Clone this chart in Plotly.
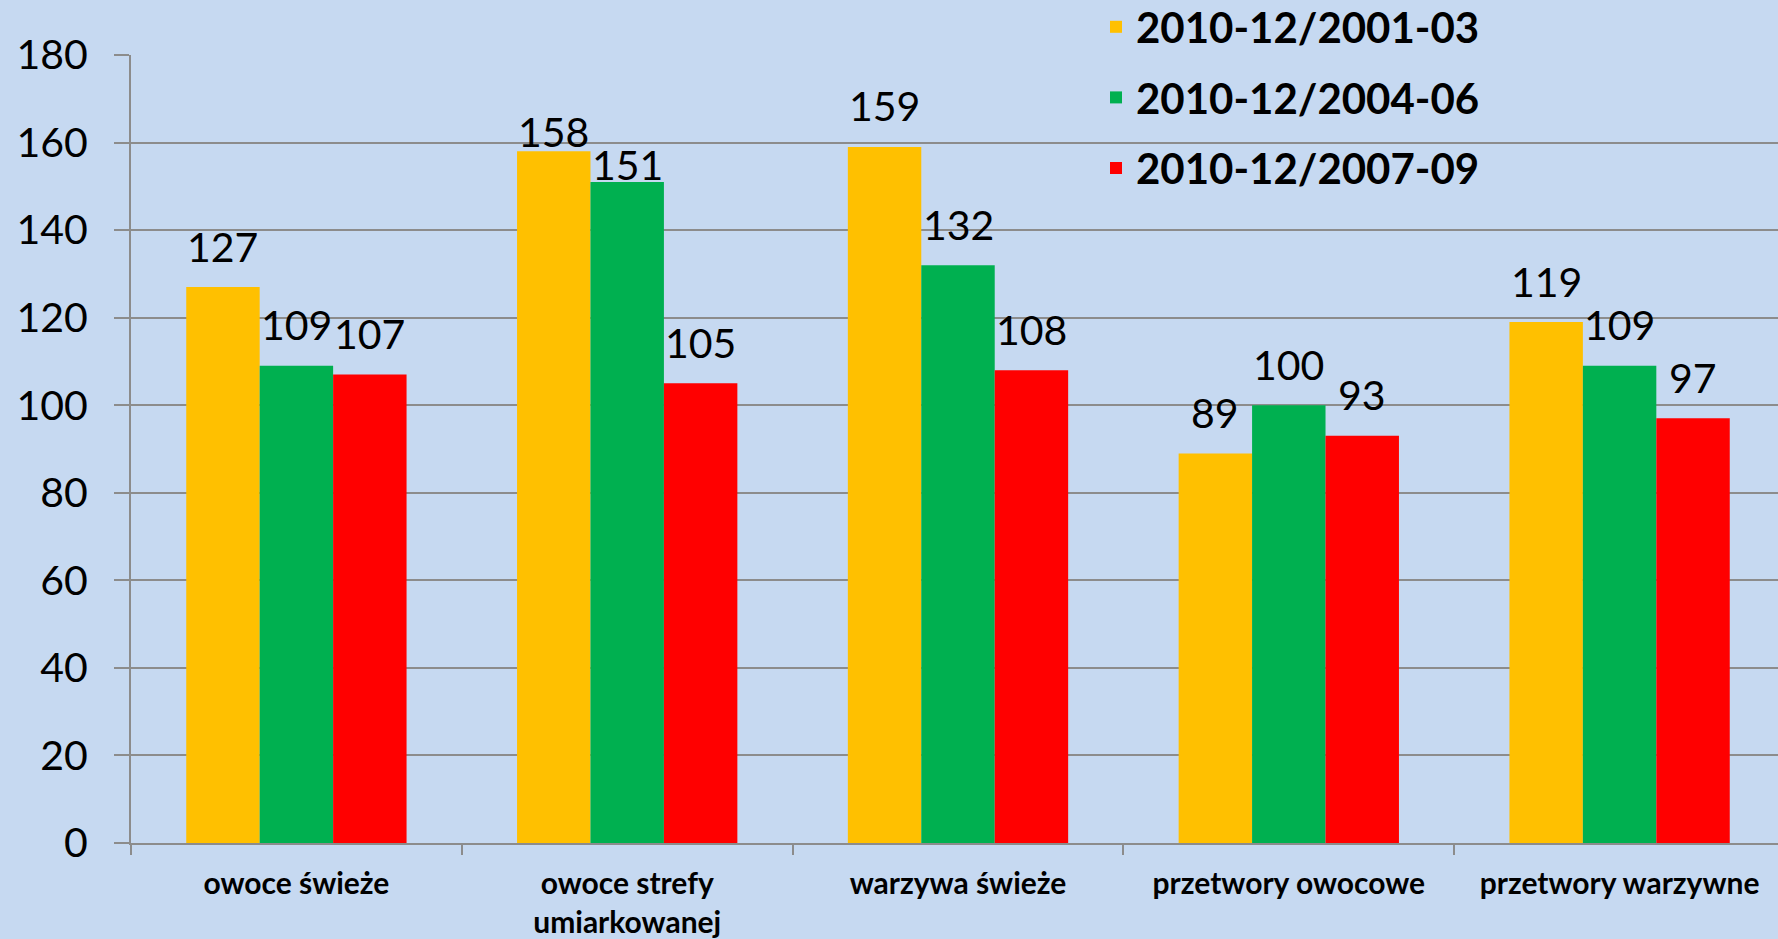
import plotly.graph_objects as go

categories = ["owoce świeże", "owoce strefy<br>umiarkowanej", "warzywa świeże",
              "przetwory owocowe", "przetwory warzywne"]
series_names = ["2010-12/2001-03", "2010-12/2004-06", "2010-12/2007-09"]
values_2001_03 = [127, 158, 159, 89, 119]
values_2004_06 = [109, 151, 132, 100, 109]
values_2007_09 = [107, 105, 108, 93, 97]
series_values = [values_2001_03, values_2004_06, values_2007_09]
colors = ["#FFC000", "#00B050", "#FF0000"]
y_ticks = [0, 20, 40, 60, 80, 100, 120, 140, 160, 180]

BG = "#C6D9F1"
GRID = "#8C8C8C"
FONT = "Lato"

W, H = 1778, 939
ML, MR, MT, MB = 131, 0, 55, 96
BARGAP = 0.334
CAT_PX = 330.8  # pixel width of one category slot
plot_w = W - ML - MR
plot_h = H - MT - MB
x_range = [-0.5, -0.5 + plot_w / CAT_PX]

# label lift above bar top (pixels, centre of text); a few labels sit lower
default_lift = 41
lift_exceptions = {(1, 0): 20, (1, 1): 17}

fig = go.Figure()
for s, (name, vals, col) in enumerate(zip(series_names, series_values, colors)):
    fig.add_trace(go.Bar(
        x=categories, y=vals, name=name,
        marker=dict(color=col, line=dict(width=0)),
        legendgroup=name,
    ))

bar_w = (1 - BARGAP) / len(series_values)
annotations = []
for s, vals in enumerate(series_values):
    for i, v in enumerate(vals):
        annotations.append(dict(
            x=i + (s - (len(series_values) - 1) / 2) * bar_w, y=v,
            xref="x", yref="y", text=str(v), showarrow=False,
            yanchor="middle", xanchor="center",
            yshift=lift_exceptions.get((i, s), default_lift),
            font=dict(family=FONT, size=41, color="black"),
        ))

LEGEND_TOP_PX = -7  # legend box top, pixels from the top of the figure
fig.update_layout(
    width=W, height=H,
    margin=dict(l=ML, r=MR, t=MT, b=MB, autoexpand=False),
    paper_bgcolor=BG, plot_bgcolor=BG,
    barmode="group", bargap=BARGAP, bargroupgap=0,
    annotations=annotations,
    showlegend=True,
    legend=dict(
        xref="container", yref="paper",
        x=1096 / W, y=1 + (MT - LEGEND_TOP_PX) / plot_h,
        xanchor="left", yanchor="top",
        bgcolor="rgba(0,0,0,0)",
        font=dict(family=FONT, size=42, color="black", weight="bold"),
        traceorder="grouped", tracegroupgap=13,
        itemwidth=30,
    ),
    xaxis=dict(
        type="category", range=x_range,
        tickson="boundaries", ticks="outside", ticklen=10,
        tickcolor=GRID, tickwidth=2, tickangle=0,
        showline=True, linecolor=GRID, linewidth=2,
        showgrid=False,
        tickfont=dict(family=FONT, size=30, color="black", weight="bold"),
        ticklabelstandoff=13,
    ),
    yaxis=dict(
        range=[0, 180], tickvals=y_ticks,
        ticks="outside", ticklen=15, tickcolor=GRID, tickwidth=1.5,
        showline=True, linecolor=GRID, linewidth=2,
        showgrid=True, gridcolor=GRID, gridwidth=1.5,
        zeroline=False,
        tickfont=dict(family=FONT, size=41, color="black"),
        ticklabelstandoff=18,
    ),
)

fig.write_html("out.html",
               config={"displayModeBar": False},
               post_script="document.body.style.margin='0';document.body.style.overflow='hidden';")
